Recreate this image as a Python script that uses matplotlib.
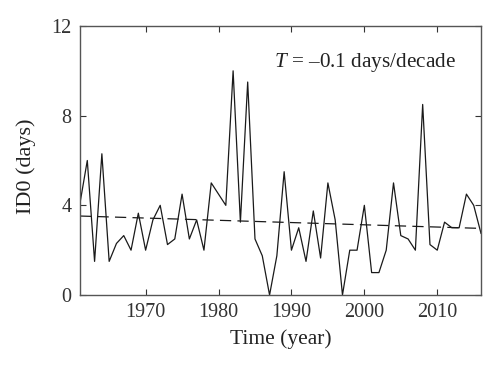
import matplotlib
matplotlib.use('Agg')
import matplotlib.pyplot as plt
import numpy as np

plt.rcParams['font.family'] = 'Liberation Serif'
plt.rcParams['mathtext.fontset'] = 'custom'
plt.rcParams['mathtext.rm'] = 'Liberation Serif'
plt.rcParams['mathtext.it'] = 'Liberation Serif:italic'

years = np.arange(1961, 2017)
id0 = [4.1, 6.0, 1.5, 6.3, 1.5, 2.3, 2.65, 2.0, 3.65, 2.0,
       3.35, 4.0, 2.25, 2.5, 4.5, 2.5, 3.35, 2.0, 5.0, 4.5,
       4.0, 10.0, 3.25, 9.5, 2.5, 1.75, 0.0, 1.75, 5.5, 2.0,
       3.0, 1.5, 3.75, 1.65, 5.0, 3.35, 0.0, 2.0, 2.0, 4.0,
       1.0, 1.0, 2.0, 5.0, 2.65, 2.5, 2.0, 8.5, 2.25, 2.0,
       3.25, 3.0, 3.0, 4.5, 4.0, 2.75]

# linear trend
coef = np.polyfit(years, id0, 1)
trend = np.polyval(coef, years)

fig = plt.figure(figsize=(5, 3.75), dpi=100)
ax = fig.add_axes([0.16, 0.2133, 0.802, 0.7174])

ax.plot(years, id0, color='#1a1a1a', lw=0.9)
ax.plot(years, trend, color='#1a1a1a', lw=0.9, ls=(0, (9, 5)))

ax.set_xlim(1961, 2016)
ax.set_ylim(0, 12)
ax.set_xticks([1970, 1980, 1990, 2000, 2010])
ax.set_yticks([0, 4, 8, 12])
ax.tick_params(direction='in', top=True, right=True, length=4, width=0.8,
               labelsize=14.5, colors='#333333', pad=6)
for s in ax.spines.values():
    s.set_color('#555555')
    s.set_linewidth(1.0)

ax.set_xlabel('Time (year)', fontsize=15.5, color='#222222', labelpad=5)
ax.set_ylabel('ID0 (days)', fontsize=16, color='#222222')
ax.yaxis.set_label_coords(-0.11, 0.48)

ax.text(0.483, 0.865, r'$T$ = –0.1 days/decade', transform=ax.transAxes,
        fontsize=15.3, color='#222222', ha='left', va='center')

fig.savefig('out.png', dpi=100)
